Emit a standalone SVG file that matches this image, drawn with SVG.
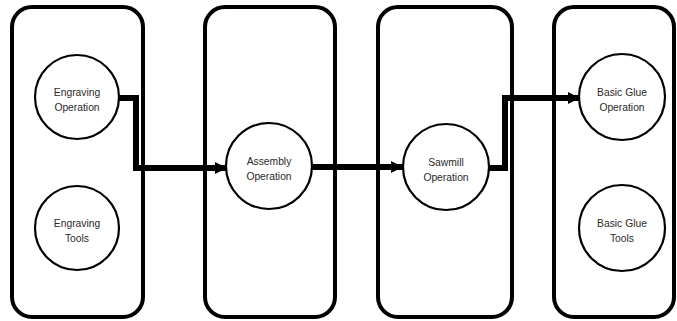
<svg xmlns="http://www.w3.org/2000/svg" width="677" height="321" viewBox="0 0 677 321">
  <defs>
    <marker id="arrow" viewBox="0 0 10 10" refX="10" refY="5" markerWidth="2" markerHeight="3.6" markerUnits="strokeWidth" orient="auto">
      <path d="M0,0 L10,5 L0,10 z" fill="#000"/>
    </marker>
    <style>
      .lane { fill: #fff; stroke: #000; stroke-width: 4; }
      .node circle { fill: #fff; stroke: #000; stroke-width: 2.2; }
      .node text { font-family: "Liberation Sans", Arial, sans-serif; font-size: 10.3px; fill: #2a2a2a; text-anchor: middle; }
      .flow { fill: none; stroke: #000; stroke-width: 6; stroke-linejoin: miter; marker-end: url(#arrow); }
    </style>
  </defs>
  <rect width="677" height="321" fill="#fff"/>

  <!-- swimlanes -->
  <g id="lanes">
    <rect class="lane" x="12" y="7" width="131" height="310" rx="20"/>
    <rect class="lane" x="205" y="7" width="130" height="310" rx="20"/>
    <rect class="lane" x="378" y="7" width="134" height="310" rx="20"/>
    <rect class="lane" x="554" y="7" width="120" height="310" rx="20"/>
  </g>

  <!-- connectors -->
  <g id="connectors">
    <path class="flow" d="M119,98 H136 V168 H227"/>
    <path class="flow" d="M311,167 H403"/>
    <path class="flow" d="M487,168 H505 V98 H580"/>
  </g>

  <g id="engraving-operation" class="node">
    <circle cx="77" cy="97" r="42"/>
    <text x="77" y="96">Engraving</text>
    <text x="77" y="111">Operation</text>
  </g>
  <g id="engraving-tools" class="node">
    <circle cx="77" cy="228" r="42"/>
    <text x="77" y="227">Engraving</text>
    <text x="77" y="242">Tools</text>
  </g>
  <g id="assembly-operation" class="node">
    <circle cx="269" cy="166" r="43"/>
    <text x="269" y="165">Assembly</text>
    <text x="269" y="180">Operation</text>
  </g>
  <g id="sawmill-operation" class="node">
    <circle cx="446" cy="167" r="43"/>
    <text x="446" y="166">Sawmill</text>
    <text x="446" y="181">Operation</text>
  </g>
  <g id="basic-glue-operation" class="node">
    <circle cx="622" cy="97" r="43"/>
    <text x="622" y="96">Basic Glue</text>
    <text x="622" y="111">Operation</text>
  </g>
  <g id="basic-glue-tools" class="node">
    <circle cx="622" cy="228" r="43"/>
    <text x="622" y="227">Basic Glue</text>
    <text x="622" y="242">Tools</text>
  </g>
</svg>
